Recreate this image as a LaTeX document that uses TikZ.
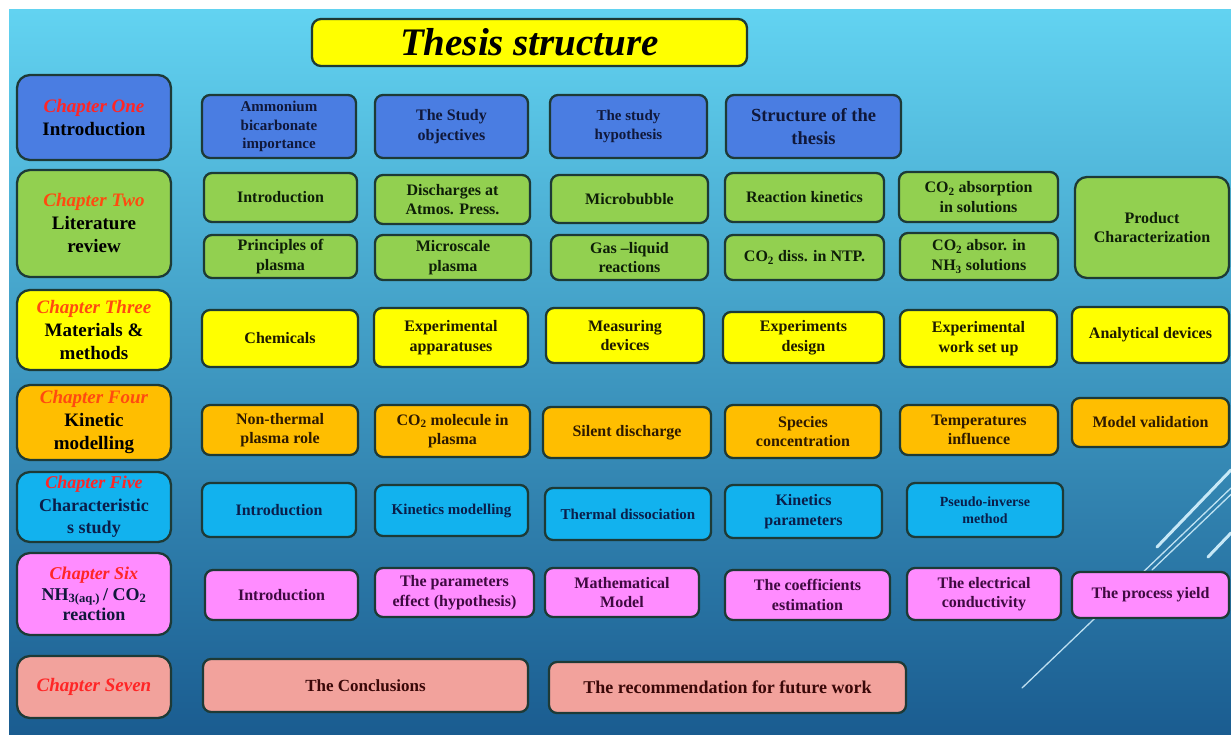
\documentclass[tikz,border=0pt]{standalone}
\usepackage{fontspec}
\setmainfont{Liberation Serif}
\definecolor{bgtop}{HTML}{62D3F1}
\definecolor{bgmid}{HTML}{3A9DCF}
\definecolor{bgbot}{HTML}{1A5C90}
\definecolor{edgec}{HTML}{1D3A36}
\definecolor{chapred}{HTML}{FF2626}
\definecolor{chaporange}{HTML}{FF4A10}
\definecolor{fblue}{HTML}{4A7DE2}
\definecolor{tblue}{HTML}{10183A}
\definecolor{fgreen}{HTML}{92D050}
\definecolor{tgreen}{HTML}{0E1E08}
\definecolor{fyellow}{HTML}{FFFF00}
\definecolor{tyellow}{HTML}{1E1A00}
\definecolor{forange}{HTML}{FFBE00}
\definecolor{torange}{HTML}{2E1A00}
\definecolor{fcyan}{HTML}{12B2EE}
\definecolor{tcyan}{HTML}{0A1E4A}
\definecolor{fpink}{HTML}{FF8CFF}
\definecolor{tpink}{HTML}{3E0A40}
\definecolor{fsalmon}{HTML}{F2A29C}
\definecolor{tsalmon}{HTML}{3A0808}
\definecolor{decoline}{HTML}{D8F4FF}
\newcommand{\mybox}[7]{%
  \node[#1, minimum width={(#5)-(#3)}, minimum height={(#6)-(#4)}] (#2) at ({((#3)+(#5))/2},{((#4)+(#6))/2}) {#7};}
\newcommand{\chaplabel}[2][chapred]{{\color{#1}\itshape #2}}
\begin{document}
\begin{tikzpicture}[x=1pt,y=-1pt,
  cell/.style={draw=edgec, line width=2.3pt, rounded corners=8pt, align=center, inner sep=0pt,
    font=\bfseries\fontsize{16}{19.5}\selectfont},
  chapbox/.style={cell, rounded corners=13pt, font=\bfseries\fontsize{19}{23}\selectfont},
  blue/.style={fill=fblue, text=tblue},
  green/.style={fill=fgreen, text=tgreen},
  yellow/.style={fill=fyellow, text=tyellow},
  orange/.style={fill=forange, text=torange},
  cyan/.style={fill=fcyan, text=tcyan},
  pink/.style={fill=fpink, text=tpink},
  salmon/.style={fill=fsalmon, text=tsalmon},
  small/.style={font=\bfseries\fontsize{15}{18.5}\selectfont},
  tiny/.style={font=\bfseries\fontsize{14}{17.5}\selectfont},
  deco/.style={draw=decoline, line cap=round}
]
\useasboundingbox (0,0) rectangle (1231,735);
\fill[white] (0,0) rectangle (1231,735);
\shade[top color=bgtop, middle color=bgmid, bottom color=bgbot] (9,10) rectangle (1231,735);
% decorative lines
\draw[deco, line width=1.3pt, opacity=0.85] (1022,688) -- (1231,488);
\draw[deco, line width=1.3pt, opacity=0.85] (1152,570) -- (1231,494.4);
\draw[deco, line width=3pt, opacity=0.9] (1157,547) -- (1231,470);
\draw[deco, line width=3pt, opacity=0.9] (1208,557) -- (1231,533);
% title
\mybox{cell, fill=fyellow, rounded corners=9pt, text=black, font=\bfseries\itshape\fontsize{39}{44}\selectfont}{title}{312}{19}{747}{66}{Thesis structure}
% chapter boxes
\mybox{chapbox, blue, text=black}{ch1}{17}{75}{171}{160}{\chaplabel{Chapter One}\\Introduction}
\mybox{chapbox, green, text=black}{ch2}{17}{170}{171}{277}{\chaplabel[chaporange]{Chapter Two}\\Literature\\review}
\mybox{chapbox, yellow, text=black}{ch3}{17}{290}{171}{370}{\chaplabel[chaporange]{Chapter Three}\\Materials \&\\methods}
\mybox{chapbox, orange, text=black}{ch4}{17}{385}{171}{460}{\chaplabel[chaporange]{Chapter Four}\\Kinetic\\modelling}
\mybox{chapbox, cyan, font=\bfseries\fontsize{18}{22.5}\selectfont}{ch5}{17}{472}{171}{542}{\chaplabel{Chapter Five}\\Characteristic\\s study}
\mybox{chapbox, pink, text=tblue, font=\bfseries\fontsize{18}{20.5}\selectfont}{ch6}{17}{553}{171}{635}{\chaplabel{Chapter Six}\\NH\textsubscript{3(aq.)}\,/ CO\textsubscript{2}\\reaction}
\mybox{chapbox, salmon}{ch7}{17}{656}{171}{718}{\chaplabel{Chapter Seven}}
% row 1 (blue)
\mybox{cell, blue, small}{a1}{202}{95}{356}{158}{Ammonium\\bicarbonate\\importance}
\mybox{cell, blue}{a2}{375}{95}{528}{158}{The Study\\objectives}
\mybox{cell, blue, small}{a3}{550}{95}{707}{158}{The study\\hypothesis}
\mybox{cell, blue, font=\bfseries\fontsize{18.5}{23}\selectfont}{a4}{726}{95}{901}{158}{Structure of the\\thesis}
% row 2 (green)
\mybox{cell, green}{b1}{204}{173}{357}{222}{Introduction}
\mybox{cell, green}{b2}{375}{175}{530}{224}{Discharges at\\Atmos. Press.}
\mybox{cell, green}{b3}{551}{175}{708}{223}{Microbubble}
\mybox{cell, green}{b4}{725}{173}{884}{222}{Reaction kinetics}
\mybox{cell, green}{b5}{899}{172}{1058}{222}{CO\textsubscript{2} absorption\\in solutions}
\mybox{cell, green, rounded corners=12pt}{b6}{1075}{177}{1229}{278}{Product\\Characterization}
\mybox{cell, green}{c1}{204}{235}{357}{278}{Principles of\\plasma}
\mybox{cell, green}{c2}{375}{235}{531}{280}{Microscale\\plasma}
\mybox{cell, green}{c3}{551}{235}{708}{280}{Gas --liquid\\reactions}
\mybox{cell, green}{c4}{725}{235}{884}{280}{CO\textsubscript{2} diss. in NTP.}
\mybox{cell, green}{c5}{900}{233}{1058}{280}{CO\textsubscript{2} absor. in\\NH\textsubscript{3} solutions}
% row 3 (yellow)
\mybox{cell, yellow}{d1}{202}{310}{358}{367}{Chemicals}
\mybox{cell, yellow}{d2}{374}{308}{528}{367}{Experimental\\apparatuses}
\mybox{cell, yellow}{d3}{546}{308}{704}{363}{Measuring\\devices}
\mybox{cell, yellow}{d4}{723}{312}{884}{363}{Experiments\\design}
\mybox{cell, yellow}{d5}{900}{310}{1057}{367}{Experimental\\work set up}
\mybox{cell, yellow}{d6}{1072}{307}{1229}{363}{Analytical devices}
% row 4 (orange)
\mybox{cell, orange}{e1}{202}{405}{358}{455}{Non-thermal\\plasma role}
\mybox{cell, orange}{e2}{375}{405}{530}{457}{CO\textsubscript{2} molecule in\\plasma}
\mybox{cell, orange}{e3}{543}{407}{711}{458}{Silent discharge}
\mybox{cell, orange}{e4}{725}{405}{881}{458}{Species\\concentration}
\mybox{cell, orange}{e5}{900}{405}{1058}{455}{Temperatures\\influence}
\mybox{cell, orange}{e6}{1072}{398}{1229}{447}{Model validation}
% row 5 (cyan)
\mybox{cell, cyan}{f1}{202}{483}{356}{537}{Introduction}
\mybox{cell, cyan, small}{f2}{375}{485}{528}{536}{Kinetics modelling}
\mybox{cell, cyan, small}{f3}{545}{488}{711}{540}{Thermal dissociation}
\mybox{cell, cyan}{f4}{725}{485}{882}{538}{Kinetics\\parameters}
\mybox{cell, cyan, tiny}{f5}{907}{483}{1063}{537}{Pseudo-inverse\\method}
% row 6 (pink)
\mybox{cell, pink}{g1}{205}{570}{358}{620}{Introduction}
\mybox{cell, pink}{g2}{375}{568}{534}{617}{The parameters\\effect (hypothesis)}
\mybox{cell, pink}{g3}{545}{568}{699}{617}{Mathematical\\Model}
\mybox{cell, pink}{g4}{725}{570}{890}{620}{The coefficients\\estimation}
\mybox{cell, pink}{g5}{907}{568}{1061}{620}{The electrical\\conductivity}
\mybox{cell, pink}{g6}{1072}{572}{1229}{618}{The process yield}
% row 7 (salmon)
\mybox{cell, salmon, font=\bfseries\fontsize{17}{20}\selectfont}{h1}{203}{659}{528}{712}{The Conclusions}
\mybox{cell, salmon, font=\bfseries\fontsize{18}{21}\selectfont}{h2}{549}{662}{906}{713}{The recommendation for future work}
\end{tikzpicture}
\end{document}
